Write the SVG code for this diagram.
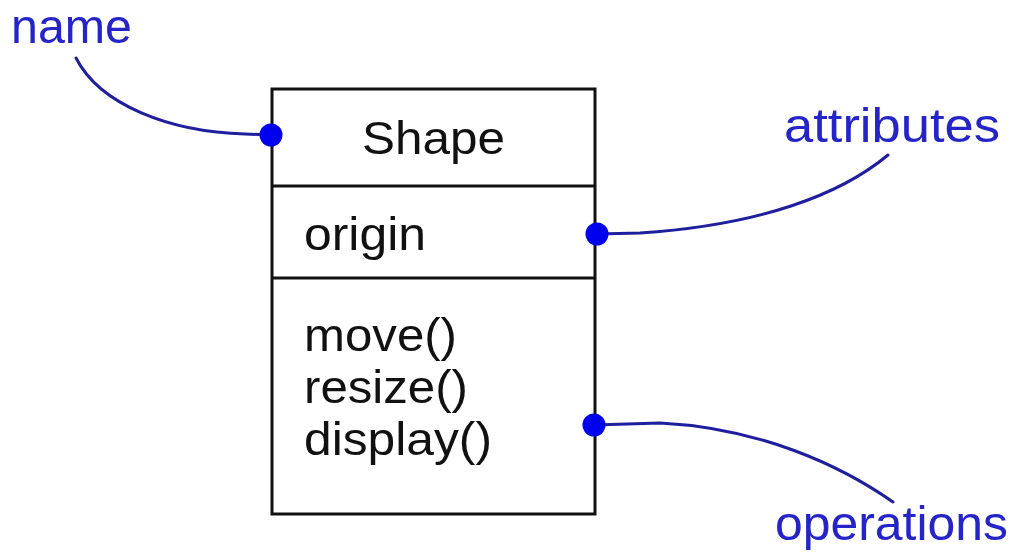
<svg xmlns="http://www.w3.org/2000/svg" width="1014" height="559" viewBox="0 0 1014 559">
<style>
.box{fill:#ffffff;stroke:#111111;stroke-width:3}
.div{stroke:#111111;stroke-width:3}
.t{font-family:"Liberation Sans",Arial,sans-serif;fill:#111111;font-size:47px}
.lbl{font-family:"Liberation Sans",Arial,sans-serif;fill:#2424c8;font-size:49px}
.conn{fill:none;stroke:#1e1e9e;stroke-width:3;stroke-linecap:round}
.dot{fill:#0000ee}
</style>
<rect width="1014" height="559" fill="#ffffff"/>
<g id="shape-class">
<rect class="box" x="272" y="89" width="323" height="425"/>
<line class="div" x1="272" y1="186" x2="595" y2="186"/>
<line class="div" x1="272" y1="278" x2="595" y2="278"/>
<text class="t" x="362" y="154" textLength="143" lengthAdjust="spacingAndGlyphs">Shape</text>
<text class="t" x="304" y="250" textLength="122" lengthAdjust="spacingAndGlyphs">origin</text>
<text class="t" x="304" y="351" textLength="153" lengthAdjust="spacingAndGlyphs">move()</text>
<text class="t" x="304" y="403" textLength="164" lengthAdjust="spacingAndGlyphs">resize()</text>
<text class="t" x="304" y="455" textLength="188" lengthAdjust="spacingAndGlyphs">display()</text>
</g>
<g id="label-name">
<text class="lbl" x="11" y="43" textLength="121" lengthAdjust="spacingAndGlyphs">name</text>
</g>
<g id="label-attributes">
<text class="lbl" x="784" y="142" textLength="216" lengthAdjust="spacingAndGlyphs">attributes</text>
</g>
<g id="label-operations">
<text class="lbl" x="775" y="540" textLength="233" lengthAdjust="spacingAndGlyphs">operations</text>
</g>
<g id="connectors">
<path class="conn" d="M76,58 C100,105 170,132 245,134 L270,135"/>
<path class="conn" d="M597,234 L640,233 C760,225 840,195 888,155"/>
<path class="conn" d="M594,425 L660,423 C760,428 840,465 893,502"/>
<circle class="dot" cx="271" cy="135" r="11.5"/>
<circle class="dot" cx="597" cy="234" r="11.5"/>
<circle class="dot" cx="594" cy="425" r="11.5"/>
</g>
</svg>
